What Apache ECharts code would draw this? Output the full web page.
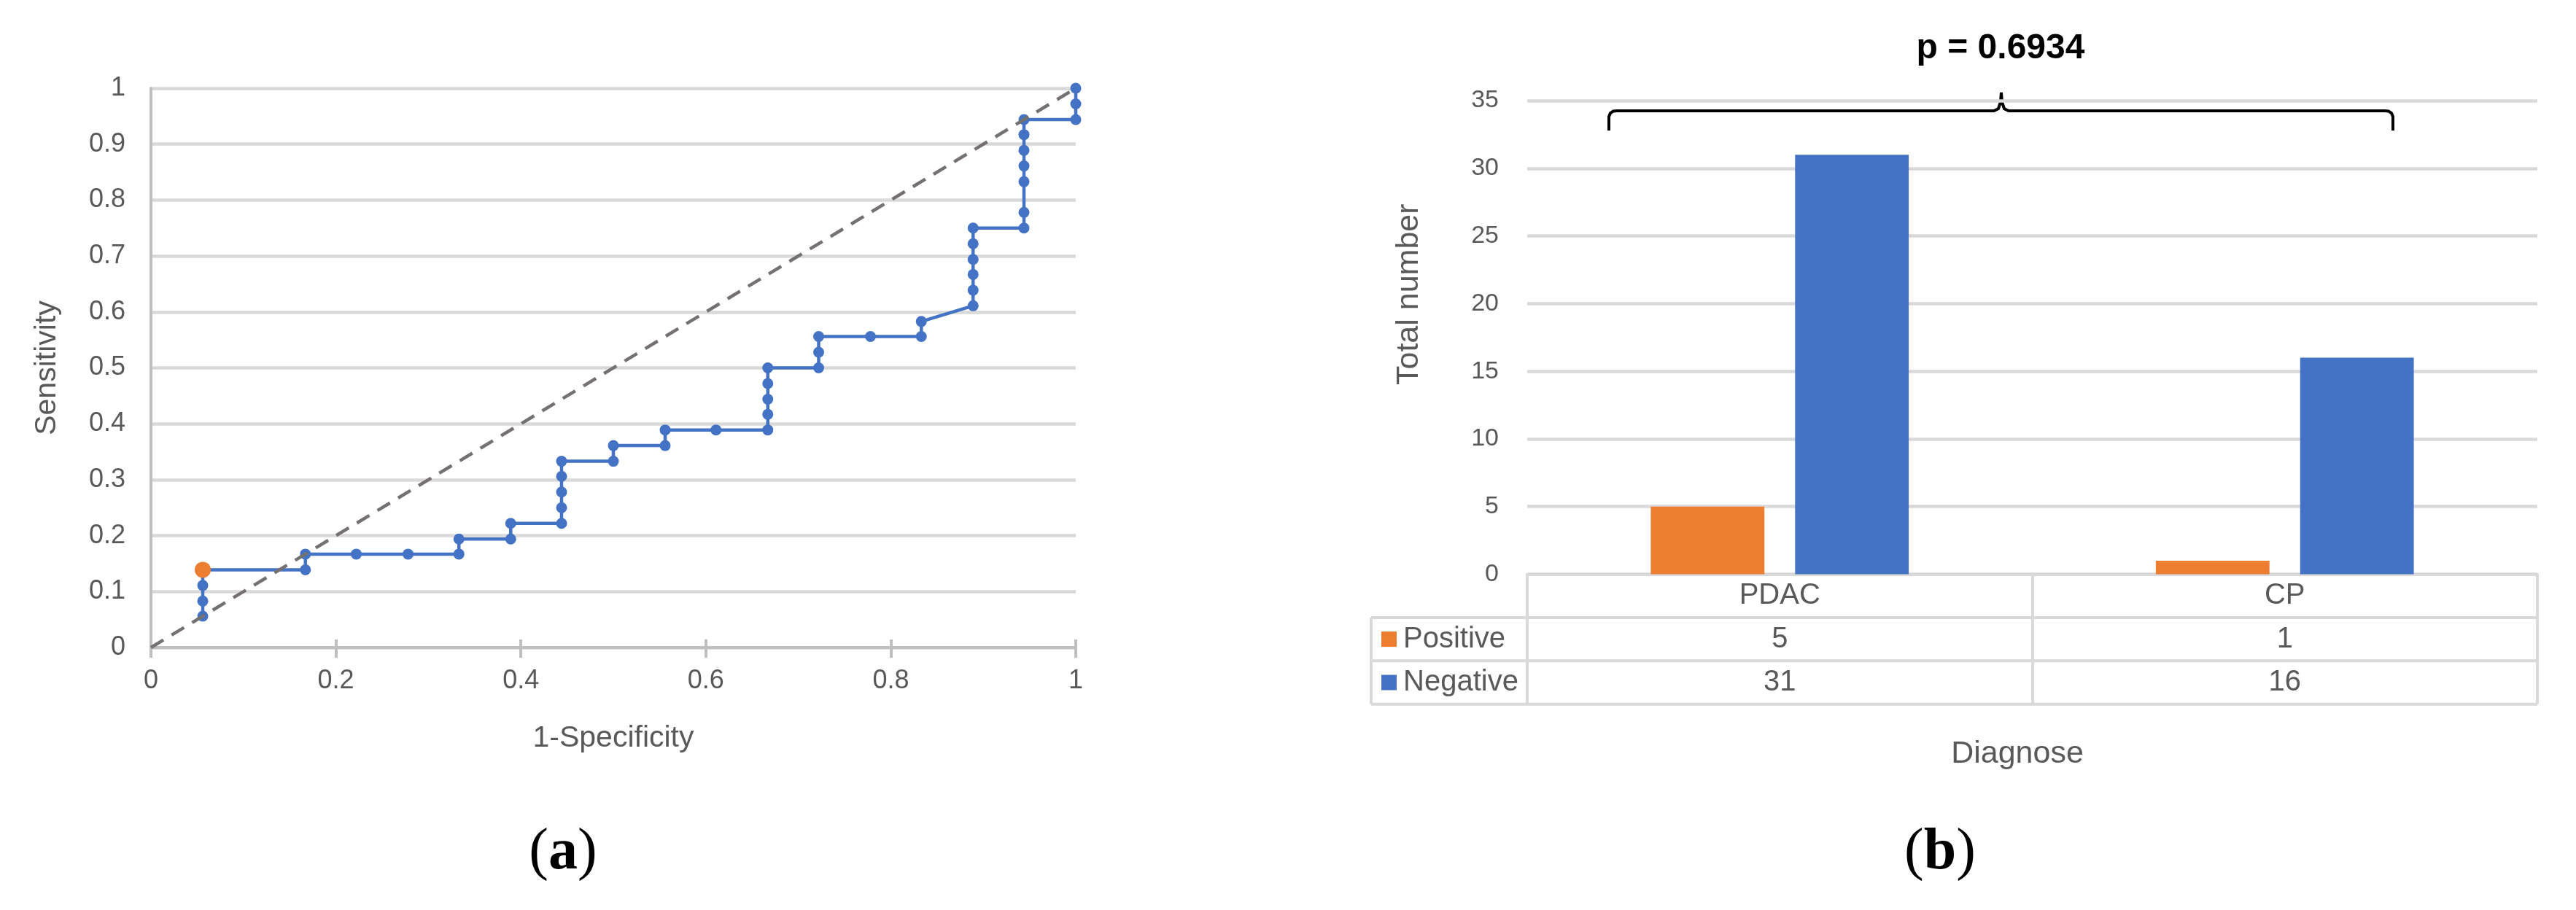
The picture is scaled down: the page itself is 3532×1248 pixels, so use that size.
<!DOCTYPE html>
<html>
<head>
<meta charset="utf-8">
<script src="https://cdn.jsdelivr.net/npm/echarts@6/dist/echarts.min.js"></script>
<style>
html,body{margin:0;padding:0;background:#fff;}
#chart{width:3532px;height:1248px;}
</style>
</head>
<body>
<div id="chart"></div>
<script>
// ---- Panel (a): ROC curve ----
const rocFpr = [0.056,0.056,0.056,0.056,0.167,0.167,0.222,0.278,0.333,0.333,0.389,0.389,0.444,0.444,0.444,0.444,0.444,0.5,0.5,0.556,0.556,0.611,0.667,0.667,0.667,0.667,0.667,0.722,0.722,0.722,0.778,0.833,0.833,0.889,0.889,0.889,0.889,0.889,0.889,0.944,0.944,0.944,0.944,0.944,0.944,0.944,1,1,1];
const rocTpr = [0.056,0.083,0.111,0.139,0.139,0.167,0.167,0.167,0.167,0.194,0.194,0.222,0.222,0.25,0.278,0.306,0.333,0.333,0.361,0.361,0.389,0.389,0.389,0.417,0.444,0.472,0.5,0.5,0.528,0.556,0.556,0.556,0.583,0.611,0.639,0.667,0.694,0.722,0.75,0.75,0.778,0.833,0.861,0.889,0.917,0.944,0.944,0.972,1];
const cutoffFpr = [0.056];
const cutoffTpr = [0.139];
const diagX = [0, 1];
const diagY = [0, 1];

// ---- Panel (b): bar chart with data table ----
const diagnoses = ['PDAC', 'CP'];
const positive = [5, 1];
const negative = [31, 16];
const pValueText = 'p = 0.6934';

const FONT = "'Liberation Sans', Arial, sans-serif";
const SERIF = "'Liberation Serif', 'Times New Roman', serif";
const TXT = '#595959';

// layout of panel (b) table
const B = { left: 2094, right: 3479, axisY: 787.5, rowH: 59.4, keyLeft: 1880 };

const chart = echarts.init(document.getElementById('chart'), null, { renderer: 'canvas' });

const rocPoints = rocFpr.map((x, i) => [x, rocTpr[i]]);
const cutPoints = cutoffFpr.map((x, i) => [x, cutoffTpr[i]]);
const diagPoints = diagX.map((x, i) => [x, diagY[i]]);

const tableLines = [];
for (let r = 1; r <= 3; r++) {
  const y = B.axisY + r * B.rowH;
  tableLines.push({ type: 'line', shape: { x1: B.keyLeft, y1: y, x2: B.right, y2: y },
    style: { stroke: '#d9d9d9', lineWidth: 4 }, z: 5 });
}
tableLines.push({ type: 'line', shape: { x1: B.keyLeft, y1: B.axisY + B.rowH, x2: B.keyLeft, y2: B.axisY + 3 * B.rowH },
  style: { stroke: '#d9d9d9', lineWidth: 4 }, z: 5 });

const bracePoints = [[2206,179],[2206,160],[2208,155],[2212,152.5],[2217,152],[2734,152],[2740,149],[2743,140],[2744,127],[2745,140],[2748,149],[2754,152],[3270,152],[3275,152.5],[3279,155],[3281,160],[3281,179]];

const option = {
  backgroundColor: '#ffffff',
  animation: false,
  grid: [
    { left: 207, right: 2057, top: 121, bottom: 360, containLabel: false },
    { left: B.left, right: 3532 - B.right, top: 138, bottom: 1248 - B.axisY, containLabel: false }
  ],
  legend: {
    data: ['Positive', 'Negative'],
    orient: 'vertical',
    left: 1894,
    top: B.axisY + 1.5 * B.rowH - 20,
    padding: 0,
    itemGap: B.rowH - 40,
    itemWidth: 21,
    itemHeight: 21,
    icon: 'rect',
    selectedMode: false,
    textStyle: { fontFamily: FONT, fontSize: 40, color: TXT, lineHeight: 40, padding: [0, 0, 0, 4] }
  },
  xAxis: [
    {
      type: 'value', gridIndex: 0, min: 0, max: 1, interval: 0.2,
      name: '1-Specificity', nameLocation: 'middle', nameGap: 104,
      nameTextStyle: { fontFamily: FONT, fontSize: 41, color: TXT },
      axisLine: { show: true, lineStyle: { color: '#bfbfbf', width: 4 } },
      axisTick: { show: true, inside: false, length: 14, lineStyle: { color: '#bfbfbf', width: 4 } },
      axisLabel: { fontFamily: FONT, fontSize: 36, color: TXT, margin: 28 },
      splitLine: { show: false }
    },
    {
      type: 'value', gridIndex: 0, min: 0, max: 1, interval: 0.2, position: 'bottom',
      axisLine: { show: false },
      axisTick: { show: true, inside: true, length: 11, lineStyle: { color: '#bfbfbf', width: 4 } },
      axisLabel: { show: false },
      splitLine: { show: false }
    },
    {
      type: 'category', gridIndex: 1, data: diagnoses,
      name: 'Diagnose', nameLocation: 'middle', nameGap: 225,
      nameTextStyle: { fontFamily: FONT, fontSize: 43, color: TXT, padding: [0, 41, 0, 0] },
      axisLine: { show: true, lineStyle: { color: '#d9d9d9', width: 4 } },
      axisTick: { show: true, interval: 0, alignWithLabel: false, length: 3 * B.rowH, lineStyle: { color: '#d9d9d9', width: 4 } },
      axisLabel: {
        interval: 0, margin: 0, fontFamily: FONT, fontSize: 40, color: TXT, lineHeight: B.rowH,
        formatter: (v, i) => [v, positive[i], negative[i]].join('\n')
      },
      splitLine: { show: false }
    }
  ],
  yAxis: [
    {
      type: 'value', gridIndex: 0, min: 0, max: 1, interval: 0.1,
      name: 'Sensitivity', nameLocation: 'middle', nameGap: 122,
      nameTextStyle: { fontFamily: FONT, fontSize: 41, color: TXT },
      axisLine: { show: true, lineStyle: { color: '#bfbfbf', width: 4 } },
      axisTick: { show: false },
      axisLabel: { fontFamily: FONT, fontSize: 36, color: TXT, margin: 35 },
      splitLine: { show: true, lineStyle: { color: '#d9d9d9', width: 4.5 } }
    },
    {
      type: 'value', gridIndex: 1, min: 0, max: 35, interval: 5,
      name: 'Total number', nameLocation: 'middle', nameGap: 140,
      nameTextStyle: { fontFamily: FONT, fontSize: 43, color: TXT, padding: [0, 0, 0, 118] },
      axisLine: { show: false },
      axisTick: { show: false },
      axisLabel: { fontFamily: FONT, fontSize: 34, color: TXT, margin: 39 },
      splitLine: { show: true, lineStyle: { color: '#d9d9d9', width: 4.5 } }
    }
  ],
  series: [
    {
      name: 'ROC', type: 'line', xAxisIndex: 0, yAxisIndex: 0, data: rocPoints,
      showSymbol: true, showAllSymbol: true, symbol: 'circle', symbolSize: 15,
      itemStyle: { color: '#4472c4', opacity: 1 },
      lineStyle: { color: '#4472c4', width: 4.5 }, z: 3
    },
    {
      name: 'Reference', type: 'line', xAxisIndex: 0, yAxisIndex: 0, data: diagPoints,
      showSymbol: false, symbol: 'none',
      lineStyle: { color: '#767171', width: 4.5, type: [20, 13], cap: 'butt' }, z: 4
    },
    {
      name: 'Cut-off', type: 'scatter', xAxisIndex: 0, yAxisIndex: 0, data: cutPoints,
      symbol: 'circle', symbolSize: 22, itemStyle: { color: '#ed7d31', opacity: 1 }, z: 6
    },
    {
      name: 'Positive', type: 'bar', xAxisIndex: 2, yAxisIndex: 1, data: positive,
      barWidth: '22.5%', barGap: '27%', itemStyle: { color: '#ed7d31' }
    },
    {
      name: 'Negative', type: 'bar', xAxisIndex: 2, yAxisIndex: 1, data: negative,
      barWidth: '22.5%', barGap: '27%', itemStyle: { color: '#4472c4' }
    }
  ],
  graphic: [
    ...tableLines,
    {
      type: 'text', x: 2743, y: 67,
      style: { text: pValueText, fontFamily: FONT, fontSize: 48, fontWeight: 'bold', fill: '#000',
        align: 'center', verticalAlign: 'middle' }
    },
    {
      type: 'polyline',
      shape: { points: bracePoints },
      style: { stroke: '#000', lineWidth: 4, fill: null }
    },
    {
      type: 'text', x: 772, y: 1170,
      style: { text: '{n|(}{b|a}{n|)}', align: 'center', verticalAlign: 'middle',
        rich: { n: { fontFamily: SERIF, fontSize: 80, fill: '#000' },
                b: { fontFamily: SERIF, fontSize: 80, fontWeight: 'bold', fill: '#000' } } }
    },
    {
      type: 'text', x: 2660, y: 1170,
      style: { text: '{n|(}{b|b}{n|)}', align: 'center', verticalAlign: 'middle',
        rich: { n: { fontFamily: SERIF, fontSize: 80, fill: '#000' },
                b: { fontFamily: SERIF, fontSize: 80, fontWeight: 'bold', fill: '#000' } } }
    }
  ]
};

chart.setOption(option);
</script>
</body>
</html>
